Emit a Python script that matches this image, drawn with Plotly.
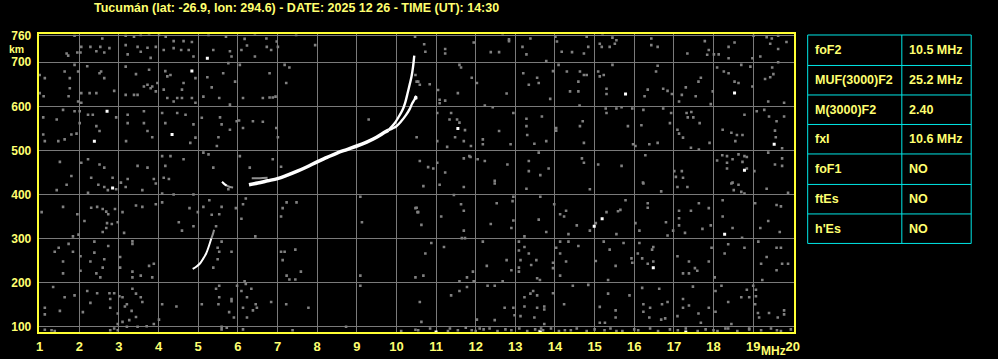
import plotly.graph_objects as go

# ---------------- data ----------------
TITLE = "Tucumán (lat: -26.9, lon: 294.6) - DATE: 2025 12 26 - TIME (UT): 14:30"
FREQ_TICKS = list(range(1, 21))
FREQ_LABELS = [str(v) for v in FREQ_TICKS]
HEIGHT_TICKS = [100, 200, 300, 400, 500, 600, 700, 760]
HEIGHT_LABELS = [str(v) for v in HEIGHT_TICKS]

PARAM_NAMES = ["foF2", "MUF(3000)F2", "M(3000)F2", "fxI", "foF1", "ftEs", "h'Es"]
PARAM_VALUES = ["10.5 MHz", "25.2 MHz", "2.40", "10.6 MHz", "NO", "NO", "NO"]

# F-layer trace (common part, MHz / km)
F_COMMON_F = [6.28, 6.5, 6.75, 7.0, 7.25, 7.5, 7.75, 8.0, 8.25, 8.5, 8.75, 9.0, 9.25, 9.5, 9.7, 9.8]
F_COMMON_H = [422, 426, 431, 436, 444, 453, 463, 474, 484, 494, 502, 510, 519, 530, 541, 546]
# ordinary branch
O_F = [9.8, 9.95, 10.05, 10.15, 10.22, 10.28, 10.33, 10.38, 10.42, 10.45]
O_H = [546, 561, 575, 591, 608, 629, 648, 667, 690, 715]
# extraordinary branch
X_F = [9.8, 10.0, 10.12, 10.24, 10.33, 10.4, 10.46, 10.5]
X_H = [546, 555, 566, 580, 593, 607, 616, 624]
# echo stroke near start of F trace
F_ECHO_F = [6.35, 6.55, 6.75]
F_ECHO_H = [437, 437, 438]
# lower trace
LOW_F = [4.86, 4.95, 5.05, 5.13, 5.2, 5.27, 5.33]
LOW_H = [231, 236, 244, 255, 266, 283, 300]
LOW_TAIL_F = [5.33, 5.37, 5.4]
LOW_TAIL_H = [300, 310, 320]
# small cusp fragment
CUSP_F = [5.6, 5.67, 5.72]
CUSP_H = [429, 423, 420]
CUSP_TAIL_F = [5.72, 5.8, 5.88]
CUSP_TAIL_H = [420, 417, 416]

# background noise dots (gray)
NOISE = [
    (1.88,760),(2.58,754),(2.05,735),(2.28,735),(2.53,735),(2.76,732),(1.68,720),(1.72,715),(1.95,722),(2.03,722),
    (2.43,725),(2.63,722),(3.17,760),(3.38,758),(3.55,762),(3.76,763),(4.01,762),(3.17,739),(3.47,735),(3.72,733),
    (3.93,735),(4.18,758),(4.38,748),(4.63,748),(4.84,746),(3.22,718),(3.55,724),(3.8,710),(4.13,728),(4.38,732),
    (4.57,728),(4.76,728),(4.88,713),(5.26,762),(5.7,758),(6.17,753),(6.43,763),(6.72,754),(6.98,747),(7.47,762),
    (5.38,728),(5.8,725),(6.09,728),(6.23,738),(6.73,735),(7.01,735),(7.95,739),(5.84,713),(6.43,713),(6.84,728),
    (10.47,758),
    (1.13,664),(1.63,679),(1.76,664),(1.88,694),(2.2,691),(1.97,679),(2.51,675),(2.55,679),(2.63,664),(3.17,690),
    (3.43,673),(3.76,683),(3.72,649),(3.84,645),(3.93,634),(3.97,653),(4.17,680),(4.22,668),(4.3,671),(4.63,653),
    (4.93,664),(4.59,638),(4.47,619),(1.76,641),(1.73,623),(2.05,630),(2.26,630),(2.43,630),(2.88,635),(1.97,611),
    (2.05,608),(3.17,626),(3.38,626),(3.47,626),(3.63,645),(3.8,641),(4.13,638),(4.22,619),(4.38,611),(4.59,619),
    (4.84,619),(4.93,608),(5.13,622),(5.34,643),(5.53,619),(5.8,604),(5.93,656),(5.63,675),(5.23,666),(5.76,698),
    (6.05,694),(6.13,619),(6.63,619),(6.8,620),(6.88,620),(6.95,622),(6.8,675),(7.22,653),(7.18,694),(7.3,688),
    (9.3,570),(10.51,619),(10.51,656),(1.0,630),(1.0,671),(1.1,623),
    (1.09,575),(1.43,570),(1.59,592),(1.88,589),(2.01,589),(2.22,581),(2.34,581),(2.93,575),(1.09,536),(1.13,521),
    (1.47,521),(1.63,525),(1.8,536),(1.93,538),(2.01,562),(2.43,555),(2.51,544),(3.22,581),(3.22,562),(3.63,589),
    (3.63,562),(3.72,544),(3.18,521),(3.84,530),(4.09,585),(4.17,562),(4.47,585),(4.68,581),(4.88,559),(4.93,529),
    (4.8,517),(5.09,574),(5.55,575),(5.59,559),(5.51,530),(5.8,547),(5.97,566),(6.03,568),(6.13,551),(6.38,566),
    (6.63,565),(6.97,551),(7.01,530),(5.47,510),
    (1.51,474),(2.22,480),(2.05,472),(2.51,468),(2.63,461),(1.8,442),(2.3,438),(2.84,438),(3.05,427),(3.22,435),
    (3.47,465),(3.72,461),(4.09,487),(4.17,465),(4.3,487),(4.63,480),(3.88,435),(4.13,438),(4.26,435),(5.13,495),
    (5.26,491),(5.38,461),(6.05,487),(6.3,461),(6.88,480),(7.09,463),
    (10.7,741),(10.73,724),(11.23,730),(11.23,720),(11.95,745),(12.38,723),(12.59,723),(12.68,763),(12.84,752),(12.84,748),
    (13.18,735),(13.28,718),(13.38,754),(13.78,703),(14.01,758),(14.05,747),(14.17,724),(14.43,723),(14.73,720),(14.8,758),
    (14.84,735),(15.13,742),(15.18,735),(15.38,735),(15.45,756),(15.51,742),(15.2,763),(15.55,750),(16.43,754),(16.43,739),
    (16.59,735),(17.34,720),(17.78,748),(17.88,728),(17.84,717),(18.01,718),(18.13,718),(18.38,735),(18.53,745),(18.38,709),
    (19.01,760),(19.34,757),(19.43,742),(19.47,754),(19.63,730),(19.63,760),(19.84,746),(19.18,713),(18.98,709),
    (10.48,671),(10.55,656),(10.59,649),(10.84,650),(11.05,637),(11.09,615),(11.09,607),(11.23,613),(11.55,630),(11.59,694),
    (11.63,688),(11.9,665),(12.03,653),(12.23,602),(12.43,598),(12.78,629),(13.2,675),(13.34,649),(13.55,665),(13.59,653),
    (13.88,617),(13.95,680),(14.09,694),(14.3,679),(14.38,634),(14.59,634),(14.63,679),(14.59,656),(14.73,671),(14.8,671),
    (14.62,602),(15.09,679),(15.13,668),(15.23,671),(15.3,640),(15.3,628),(15.45,694),(16.26,623),(16.34,638),(16.59,692),
    (16.55,679),(16.73,640),(16.84,635),(16.95,628),(17.13,611),(17.2,626),(17.3,643),(17.55,623),(17.62,656),(17.68,665),
    (17.93,605),(17.98,634),(18.09,688),(18.26,679),(18.38,675),(18.53,656),(18.63,653),(18.7,694),(18.93,690),(18.98,645),
    (19.3,662),(19.43,666),(19.51,673),(19.48,688),(19.38,611),(19.78,608),(19.63,700),
    (10.51,530),(11.03,585),(11.03,521),(11.28,508),(11.38,585),(11.34,570),(11.53,570),(11.59,563),(11.73,546),(11.48,530),
    (11.7,521),(11.88,510),(12.18,525),(12.18,514),(12.59,544),(12.88,514),(12.95,585),(13.28,572),(13.28,555),(13.3,535),
    (13.48,515),(13.67,577),(13.78,521),(14.03,551),(14.03,545),(14.63,555),(14.7,566),(14.73,517),(15.3,585),(15.28,595),
    (15.55,595),(15.68,598),(15.84,555),(15.95,595),(15.97,514),(16.03,510),(16.23,592),(16.18,557),(16.38,514),(16.59,517),
    (16.73,595),(16.93,585),(16.9,562),(17.09,547),(17.13,538),(17.23,529),(17.32,585),(17.44,587),(17.35,575),(17.49,575),
    (17.65,562),(17.43,506),(17.63,502),(17.9,517),(18.23,547),(18.45,540),(18.59,535),(18.73,535),(18.55,521),(18.78,581),
    (19.09,589),(19.28,592),(19.4,577),(19.59,566),(19.78,577),(19.55,545),(19.57,530),(19.73,505),
    (10.59,476),(10.8,462),(10.93,459),(11.03,472),(11.23,450),(11.7,482),(11.84,487),(11.87,485),(12.05,480),(12.23,476),
    (12.48,431),(12.8,468),(13.34,476),(13.34,453),(13.59,495),(13.63,444),(13.84,459),(14.68,482),(14.73,472),(15.09,468),
    (15.68,465),(16.22,427),(16.28,489),(17.01,453),(17.2,453),(17.23,438),(17.05,440),(18.22,489),(18.34,487),(18.34,472),
    (18.48,480),(18.63,491),(18.78,487),(18.84,485),(18.84,459),(19.03,453),(19.38,495),(19.73,482),(19.73,465),(19.55,468),
    (18.34,459),(18.48,427),(18.73,474),(18.09,477),
    (1.68,422),(1.43,410),(2.22,404),(2.48,422),(2.63,417),(2.72,410),(2.93,412),(3.17,417),(3.59,410),(3.93,425),
    (4.09,402),(4.38,400),(4.88,400),(5.76,412),
    (1.05,360),(1.59,372),(1.95,355),(2.13,340),(2.3,370),(2.45,372),(2.59,367),(2.68,361),(2.73,355),(2.9,367),
    (2.7,335),(2.82,333),(2.97,337),(3.09,360),(3.13,313),(3.43,375),(3.59,372),(3.93,378),(4.09,382),(1.84,305),
    (1.98,309),(2.59,315),(2.68,324),(4.51,337),(4.59,318),(4.78,369),(4.88,328),(4.99,360),(5.13,372),(5.28,387),
    (5.34,354),(5.53,355),(5.59,372),(5.45,328),(5.95,369),(6.09,345),(6.13,378),(6.2,391),(6.44,305),(7.13,369),
    (7.23,382),(7.09,350),(7.48,382),(9.09,395),(9.13,337),(10.48,369),(10.53,360),
    (1.73,288),(1.48,279),(1.38,270),(1.84,270),(1.59,248),(2.03,260),(2.28,248),(2.38,268),(2.38,293),(2.63,253),
    (2.73,283),(1.59,221),(2.03,227),(2.43,221),(2.53,212),(2.59,234),(3.03,258),(3.03,234),(3.34,294),(3.34,288),
    (3.34,225),(3.34,212),(3.55,216),(3.76,238),(3.88,243),(3.84,212),(5.38,234),(5.49,279),(5.53,270),(5.59,293),
    (5.49,253),(5.84,270),(7.09,270),(7.18,270),(7.13,251),(7.45,275),(7.23,216),(7.3,207),(7.45,207),(7.59,225),
    (9.09,216),(10.48,212),
    (1.34,190),(1.63,167),(1.88,171),(2.2,181),(2.28,154),(2.45,176),(2.76,176),(2.78,163),(2.78,143),(2.88,176),
    (3.01,169),(3.09,167),(3.15,146),(3.2,151),(3.32,136),(3.34,186),(3.43,175),(3.43,122),(3.55,167),(3.59,156),
    (3.47,100),(3.26,115),(3.2,100),(2.97,106),(2.97,130),(2.88,96),(3.09,111),(1.13,143),(1.13,128),(1.51,136),
    (2.09,133),(3.88,106),(4.01,116),(3.7,101),(4.09,151),(4.45,146),(5.09,151),(5.45,186),(5.53,193),(5.53,167),
    (5.84,163),(5.84,158),(5.51,151),(5.78,133),(5.9,121),(5.98,193),(6.09,181),(6.17,203),(6.2,197),(6.23,167),
    (6.34,186),(6.13,143),(6.23,121),(6.38,137),(6.45,151),(6.48,143),(6.84,156),(7.22,151),(7.78,143),(8.73,100),
    (9.09,193),(10.48,93),(5.59,100),(5.59,94),(5.72,98),(6.13,94),(7.38,92),(1.13,93),(1.3,92),(1.38,90),
    (2.78,92),(2.97,92),(10.12,90),
    (10.68,419),(11.09,422),(11.7,417),(12.48,425),(13.28,413),(14.88,412),(16.23,425),(16.68,407),(17.09,417),(17.34,417),
    (18.45,425),(18.51,410),(18.63,422),(18.7,406),(18.78,402),(19.34,413),(19.88,404),
    (10.51,370),(10.55,360),(10.63,331),(11.13,350),(11.45,399),(11.63,378),(11.7,363),(11.7,318),(11.65,301),(11.73,301),
    (12.38,333),(12.53,380),(12.9,324),(12.95,395),(12.93,385),(12.95,341),(13.23,305),(13.59,343),(13.63,395),(13.78,315),
    (13.98,378),(14.13,355),(14.23,350),(14.28,363),(14.34,310),(14.55,330),(15.03,335),(14.88,318),(15.3,360),(15.55,310),
    (15.59,362),(15.65,365),(15.78,387),(16.03,335),(16.13,318),(16.34,380),(16.34,370),(16.8,337),(16.84,307),(16.98,318),
    (17.13,363),(17.13,346),(17.13,330),(17.28,313),(17.43,363),(17.63,380),(17.72,322),(17.88,369),(17.93,330),(18.23,387),
    (18.23,350),(18.48,324),(18.72,302),(19.05,380),(19.18,324),(19.38,340),(19.59,376),(19.7,373),(19.67,315),
    (10.88,290),(10.73,266),(11.2,281),(10.68,216),(11.59,203),(11.78,212),(11.93,225),(11.95,203),(12.18,293),(12.28,238),
    (12.68,203),(12.78,251),(12.9,228),(13.09,293),(13.09,273),(13.13,251),(13.09,234),(13.09,225),(13.23,281),(13.34,266),
    (13.4,240),(13.53,251),(13.55,210),(13.62,206),(13.95,245),(13.95,233),(14.03,279),(14.13,293),(14.13,266),(14.13,216),
    (14.28,248),(14.34,293),(14.59,283),(15.03,249),(15.23,293),(15.34,206),(15.38,275),(15.53,238),(15.73,290),(15.93,255),
    (15.95,245),(16.09,266),(16.13,290),(16.2,255),(16.34,243),(16.45,275),(16.48,281),(16.48,248),(17.09,260),(17.23,221),
    (17.38,248),(17.38,221),(17.53,233),(17.59,227),(17.88,248),(17.95,279),(18.03,212),(18.28,266),(18.37,287),(18.78,279),
    (19.13,293),(19.2,243),(19.34,258),(19.59,279),(19.7,279),(19.73,243),(19.88,243),(19.59,228),(19.23,206),
    (10.59,156),(10.63,111),(11.38,171),(11.59,181),(11.78,190),(12.3,193),(12.48,193),(12.03,116),(12.48,115),(12.73,143),
    (12.95,143),(12.98,126),(13.13,124),(13.23,167),(13.23,146),(13.38,175),(13.45,181),(13.55,171),(13.55,143),(13.73,146),
    (13.73,139),(13.48,121),(13.73,106),(13.95,176),(14.23,151),(14.45,193),(14.84,195),(15.13,145),(15.34,175),(15.53,137),
    (15.53,121),(15.13,109),(15.26,109),(15.88,171),(16.2,188),(16.23,151),(16.23,134),(16.4,143),(16.63,186),(16.7,151),
    (16.84,156),(16.78,119),(16.68,116),(16.38,121),(17.09,124),(17.23,163),(17.23,143),(17.38,148),(17.48,191),(17.62,130),
    (17.68,109),(17.88,143),(18.05,181),(18.05,134),(18.2,193),(18.37,156),(18.7,167),(18.84,184),(18.9,167),(19.0,193),
    (19.07,169),(19.05,151),(19.12,131),(19.15,121),(19.4,131),(19.62,121),(19.78,137),(19.78,128),(19.07,184),(18.45,106),
    (18.37,96),(18.9,96),
    (10.55,92),(10.85,96),(11.3,90),(11.35,96),(11.55,92),(11.75,98),(12.0,90),(12.2,94),(12.35,96),(12.55,90),
    (12.75,94),(12.9,92),(13.1,96),(13.3,90),(13.5,94),(13.7,92),(13.9,96),(14.1,90),(14.25,92),(14.55,96),
    (14.8,90),(15.0,94),(15.25,92),(15.4,96),(15.7,90),(16.0,94),(16.1,92),(16.4,96),(16.6,90),(16.9,94),
    (17.1,92),(17.3,96),(17.6,90),(17.8,94),(18.0,92),(18.3,96),(18.6,90),(18.9,94),(19.2,92),(19.45,96),
    (19.7,90),(19.95,94),(11.9,92),(12.1,96),(13.6,90),(13.65,96),(14.4,92),(15.55,90),(18.1,90),(19.6,92),
]
NOISE_F = [p[0] for p in NOISE]
NOISE_H = [p[1] for p in NOISE]

# bright (white) noise dots
BRIGHT = [(5.23,709),(4.84,680),(2.7,589),(2.38,521),(4.34,536),(10.48,619),(15.78,628),(18.53,630),
          (11.55,550),(19.53,514),(18.78,455),(2.84,415),(15.19,345),(14.99,328),(18.28,310),(16.48,234),
          (11.0,88),(13.63,88),(17.3,88)]
BRIGHT_F = [p[0] for p in BRIGHT]
BRIGHT_H = [p[1] for p in BRIGHT]

# ---------------- figure ----------------
W, H = 998, 359
TEXT_COLOR = "#FFFF70"
AXIS_COLOR = "#FFFF33"
GRID_COLOR = "#7A7A7A"
TABLE_COLOR = "#00E6E6"
FONT = "Liberation Sans"

fig = go.Figure()

fig.add_trace(go.Scatter(x=NOISE_F, y=NOISE_H, mode="markers",
                         marker=dict(symbol="square", size=2.6, color="#808080", line=dict(width=0)),
                         hoverinfo="skip"))
fig.add_trace(go.Scatter(x=BRIGHT_F, y=BRIGHT_H, mode="markers",
                         marker=dict(symbol="square", size=3, color="#FFFFFF", line=dict(width=0)),
                         hoverinfo="skip"))

def line(xs, ys, color, width):
    fig.add_trace(go.Scatter(x=xs, y=ys, mode="lines",
                             line=dict(color=color, width=width, shape="spline"),
                             hoverinfo="skip"))

line(F_ECHO_F, F_ECHO_H, "#909090", 2)
line(LOW_TAIL_F, LOW_TAIL_H, "#909090", 2)
line(CUSP_TAIL_F, CUSP_TAIL_H, "#909090", 2)
line(LOW_F, LOW_H, "#FFFFFF", 2)
line(CUSP_F, CUSP_H, "#FFFFFF", 2)
line(F_COMMON_F, F_COMMON_H, "#FFFFFF", 3.5)
line(O_F, O_H, "#FFFFFF", 2.4)
line(X_F, X_H, "#FFFFFF", 2.4)

fig.update_layout(
    width=W, height=H,
    margin=dict(l=0, r=0, t=0, b=0),
    paper_bgcolor="black", plot_bgcolor="black",
    showlegend=False,
    font=dict(family=FONT, color=TEXT_COLOR, size=12),
    xaxis=dict(domain=[36 / W, 798 / W], range=[0.975, 20.025],
               tickmode="array", tickvals=FREQ_TICKS, ticktext=FREQ_LABELS,
               showgrid=True, gridcolor=GRID_COLOR, gridwidth=1, zeroline=False,
               showline=True, linecolor=AXIS_COLOR, linewidth=2, mirror=True,
               ticks="", ticklabelstandoff=1,
               tickfont=dict(family=FONT, size=13, color=TEXT_COLOR, weight="bold")),
    yaxis=dict(domain=[1 - 333 / H, 1 - 30 / H], range=[87, 763],
               tickmode="array", tickvals=HEIGHT_TICKS, ticktext=HEIGHT_LABELS,
               showgrid=True, gridcolor=GRID_COLOR, gridwidth=1, zeroline=False,
               showline=True, linecolor=AXIS_COLOR, linewidth=2, mirror=True,
               ticks="", ticklabelstandoff=3,
               tickfont=dict(family=FONT, size=12, color=TEXT_COLOR, weight="bold")),
)

def px(x):
    return x / W

def py(y):
    return 1 - y / H

annotations = [
    dict(text=TITLE, x=px(296), y=py(3), xref="paper", yref="paper",
         xanchor="center", yanchor="middle", showarrow=False,
         font=dict(family=FONT, size=12.5, color=TEXT_COLOR, weight="bold")),
    dict(text="km", x=px(14), y=py(44.5), xref="paper", yref="paper",
         xanchor="center", yanchor="middle", showarrow=False,
         font=dict(family=FONT, size=10.5, color=TEXT_COLOR, weight="bold")),
    dict(text="MHz", x=px(778), y=py(352), xref="paper", yref="paper",
         xanchor="center", yanchor="middle", showarrow=False,
         font=dict(family=FONT, size=12, color=TEXT_COLOR, weight="bold")),
]

# parameter table
TBL_X0, TBL_X1, TBL_XMID = 812, 977, 907
ROW_EDGES = [30.5, 61.5, 91.5, 121.5, 151.5, 182.5, 212.5, 242.5]
shapes = [dict(type="rect", xref="paper", yref="paper",
               x0=px(TBL_X0), x1=px(TBL_X1), y0=py(ROW_EDGES[-1]), y1=py(ROW_EDGES[0]),
               line=dict(color=TABLE_COLOR, width=1), fillcolor="rgba(0,0,0,0)"),
          dict(type="line", xref="paper", yref="paper",
               x0=px(TBL_XMID), x1=px(TBL_XMID), y0=py(ROW_EDGES[-1]), y1=py(ROW_EDGES[0]),
               line=dict(color=TABLE_COLOR, width=1))]
for e in ROW_EDGES[1:-1]:
    shapes.append(dict(type="line", xref="paper", yref="paper",
                       x0=px(TBL_X0), x1=px(TBL_X1), y0=py(e), y1=py(e),
                       line=dict(color=TABLE_COLOR, width=1)))

for i, (name, val) in enumerate(zip(PARAM_NAMES, PARAM_VALUES)):
    ymid = (ROW_EDGES[i] + ROW_EDGES[i + 1]) / 2
    annotations.append(dict(text=name, x=px(TBL_X0 + 5), y=py(ymid), xref="paper", yref="paper",
                            xanchor="left", yanchor="middle", showarrow=False,
                            font=dict(family=FONT, size=12.5, color=TEXT_COLOR, weight="bold")))
    annotations.append(dict(text=val, x=px(TBL_XMID + 5), y=py(ymid), xref="paper", yref="paper",
                            xanchor="left", yanchor="middle", showarrow=False,
                            font=dict(family=FONT, size=12.5, color=TEXT_COLOR, weight="bold")))

fig.update_layout(annotations=annotations, shapes=shapes)

fig.write_html("out.html")
